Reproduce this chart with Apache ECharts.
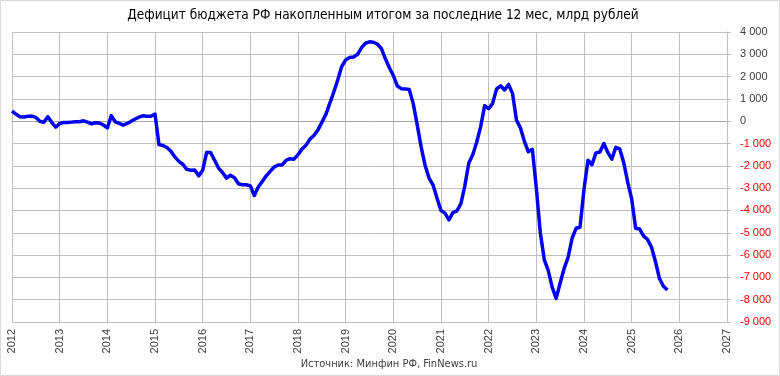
<!DOCTYPE html>
<html>
<head>
<meta charset="utf-8">
<script src="https://cdn.jsdelivr.net/npm/echarts@6/dist/echarts.min.js"></script>
<style>
html,body{margin:0;padding:0;background:#fff;}
#c{width:780px;height:376px;}
</style>
</head>
<body>
<div id="c"></div>
<script>
// Monthly values (billion rubles), Jan..Dec for each year
var v2012 = [450, 320, 200, 190, 220, 230, 170, 0, -50, 200, -50, -270];
var v2013 = [-100, -60, -60, -40, -20, -20, 20, -40, -120, -70, -80, -170];
var v2014 = [-300, 250, -30, -100, -170, -100, 0, 100, 180, 250, 220, 220];
var v2015 = [320, -1050, -1090, -1180, -1350, -1600, -1800, -1930, -2160, -2200, -2190, -2450];
var v2016 = [-2200, -1400, -1400, -1750, -2100, -2300, -2550, -2420, -2530, -2800, -2850, -2850];
var v2017 = [-2900, -3330, -2950, -2700, -2450, -2250, -2050, -1960, -1960, -1750, -1680, -1700];
var v2018 = [-1500, -1250, -1080, -800, -640, -400, -50, 300, 800, 1300, 1850, 2450];
var v2019 = [2750, 2860, 2880, 3000, 3300, 3500, 3560, 3540, 3460, 3250, 2800, 2400];
var v2020 = [2050, 1580, 1460, 1450, 1420, 800, -150, -1150, -1980, -2550, -2860, -3450];
var v2021 = [-4000, -4120, -4420, -4100, -4020, -3700, -2900, -1870, -1500, -930, -230, 700];
var v2022 = [560, 800, 1450, 1590, 1400, 1650, 1250, 50, -300, -900, -1370, -1260];
var v2023 = [-3000, -5000, -6200, -6700, -7450, -7940, -7250, -6600, -6100, -5250, -4800, -4750];
var v2024 = [-3050, -1750, -1950, -1420, -1380, -1000, -1400, -1700, -1170, -1240, -1850, -2730];
var v2025 = [-3480, -4800, -4830, -5150, -5300, -5650, -6300, -7050, -7400, -7570];

var startYears = [2012, 2013, 2014, 2015, 2016, 2017, 2018, 2019, 2020, 2021, 2022, 2023, 2024, 2025];
var yearly = [v2012, v2013, v2014, v2015, v2016, v2017, v2018, v2019, v2020, v2021, v2022, v2023, v2024, v2025];

var titleText = 'Дефицит бюджета РФ накопленным итогом за последние 12 мес, млрд рублей';
var sourceText = 'Источник: Минфин РФ, FinNews.ru';

var data = [];
yearly.forEach(function (arr, k) {
  arr.forEach(function (v, m) {
    data.push([startYears[k] + m / 12, v]);
  });
});

function fmt(v) {
  var n = Math.round(Number(v));
  var s = String(Math.abs(n)).replace(/\B(?=(\d{3})+(?!\d))/g, ' ');
  return (n < 0 ? '-' : '') + s;
}

var narrow = 'Liberation Sans Narrow, DejaVu Sans Condensed, sans-serif';

var chart = echarts.init(document.getElementById('c'), null, {renderer: 'canvas'});
chart.setOption({
  animation: false,
  backgroundColor: '#ffffff',
  graphic: [
    {type: 'rect', shape: {x: 0.5, y: 0.5, width: 779, height: 375}, style: {fill: 'none', stroke: '#D9D9D9', lineWidth: 1}, silent: true},
    {type: 'text', x: 383, y: 15, style: {text: titleText, textAlign: 'center', textVerticalAlign: 'middle', fontFamily: narrow, fontSize: 13.5, fill: '#000000'}, silent: true},
    {type: 'text', x: 389, y: 364, style: {text: sourceText, textAlign: 'center', textVerticalAlign: 'middle', fontFamily: narrow, fontSize: 11, fill: '#404040'}, silent: true}
  ],
  grid: {left: 12, right: 53, top: 32, bottom: 54, containLabel: false},
  xAxis: {
    type: 'value',
    min: 2012, max: 2027, interval: 1,
    axisLine: {show: true, lineStyle: {color: '#A6A6A6', width: 1}},
    axisTick: {show: false},
    splitLine: {show: true, lineStyle: {color: '#BFBFBF', width: 1}},
    axisLabel: {
      rotate: 90, margin: 7,
      fontFamily: 'Liberation Sans, Arial, sans-serif', fontSize: 11, color: '#404040',
      formatter: function (v) { return String(Math.round(v)); }
    }
  },
  yAxis: {
    type: 'value',
    position: 'right',
    min: -9000, max: 4000, interval: 1000,
    axisLine: {show: true, lineStyle: {color: '#BFBFBF', width: 1}},
    axisTick: {show: true, length: 4, lineStyle: {color: '#BFBFBF'}},
    splitLine: {show: true, lineStyle: {color: '#BFBFBF', width: 1}},
    axisLabel: {
      margin: 13,
      fontFamily: 'Liberation Sans, Arial, sans-serif', fontSize: 11,
      formatter: fmt,
      color: function (v) { return Number(v) < 0 ? '#FF0000' : '#404040'; }
    }
  },
  series: [{
    type: 'line',
    data: data,
    showSymbol: false,
    symbol: 'none',
    lineStyle: {color: '#0000F0', width: 3.5, join: 'round'},
    itemStyle: {color: '#0000F0'}
  }]
});
</script>
</body>
</html>
